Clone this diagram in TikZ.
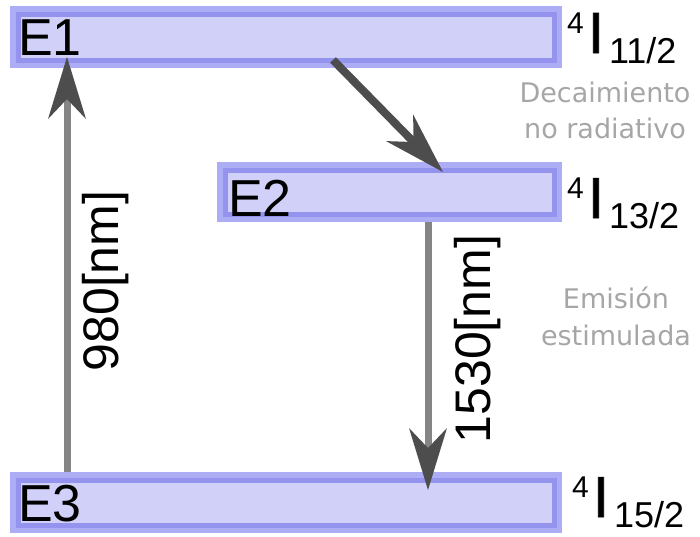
\documentclass[tikz,border=0pt]{standalone}
\usepackage{fontspec}
\setmainfont{Liberation Sans}
\newfontfamily\notefont{DejaVu Sans}
\newfontfamily\termfont[FakeBold=1.2]{Liberation Sans}
\usetikzlibrary{arrows.meta}
\definecolor{barfill}{HTML}{D0D0F8}
\definecolor{barline}{HTML}{9494EF}
\definecolor{barhalo}{HTML}{ADADF5}
\definecolor{shaftgray}{HTML}{858585}
\definecolor{headgray}{HTML}{4D4D4D}
\definecolor{notegray}{HTML}{A6A6A6}
\newcommand\fsz[1]{\fontsize{#1pt}{#1pt}\selectfont}
% term symbol ^4I_{J}
\newcommand\termsym[1]{\raisebox{20pt}{\fsz{30}4}\hspace{4pt}{\termfont\fsz{58}I}\hspace{5pt}\raisebox{-10pt}{\fsz{36}#1}}
\begin{document}
\begin{tikzpicture}[x=1pt,y=-1pt,
  level/.style={rectangle, draw=barline, line width=5pt, fill=barfill,
    preaction={draw=barhalo, line width=16pt}, inner sep=0pt, outer sep=0pt},
  levelname/.style={anchor=base west, inner sep=0pt, font=\fsz{52}},
  term/.style={anchor=base west, inner sep=0pt},
  note/.style={align=center, inner sep=0pt, text=notegray, font=\notefont\fsz{27}},
  wavelength/.style={rotate=90, anchor=base, inner sep=0pt, font=\fsz{50}},
  pump/.style={draw=shaftgray, line width=7pt,
    -{Stealth[length=62pt, width=38pt, inset=20pt, color=headgray, line width=0pt]}},
  decay/.style={draw=headgray, line width=8pt,
    -{Stealth[length=62pt, width=38pt, inset=20pt, color=headgray, line width=0pt]}}]
\useasboundingbox (0,0) rectangle (700,536);

% energy levels
\node[level, minimum width=536pt, minimum height=46pt] (e1) at (286,37) {};
\node[level, minimum width=329pt, minimum height=44pt] (e2) at (389.5,192) {};
\node[level, minimum width=536pt, minimum height=45pt] (e3) at (286,502.5) {};

% transitions
\draw[pump] ([xshift=-219pt, yshift=8pt]e3.north) -- ([xshift=-219pt, yshift=3pt]e1.south);
\draw[decay] ([xshift=47pt]e1.south) -- ([xshift=53.5pt, yshift=-2pt]e2.north);
\draw[pump] ([xshift=38.5pt, yshift=-8pt]e2.south) -- ([xshift=142pt, yshift=-10pt]e3.north);

% level names
\node[levelname] (n1) at (18,55) {E1};
\node[levelname] (n2) at (228,216) {E2};
\node[levelname] (n3) at (18,521) {E3};

% term symbols
\node[term] (t1) at (567,53) {\termsym{11/2}};
\node[term] (t2) at (567,218) {\termsym{13/2}};
\node[term] (t3) at (572,517) {\termsym{15/2}};

% wavelengths
\node[wavelength] (w1) at (118,281) {980[nm]};
\node[wavelength] (w2) at (490,339) {1530[nm]};

% process notes
\node[note, anchor=base] (d1) at (605,102) {Decaimiento};
\node[note, anchor=base] (d2) at (605,138) {no radiativo};
\node[note, anchor=base] (s1) at (616,308) {Emisión};
\node[note, anchor=base] (s2) at (616,345) {estimulada};
\end{tikzpicture}
\end{document}
